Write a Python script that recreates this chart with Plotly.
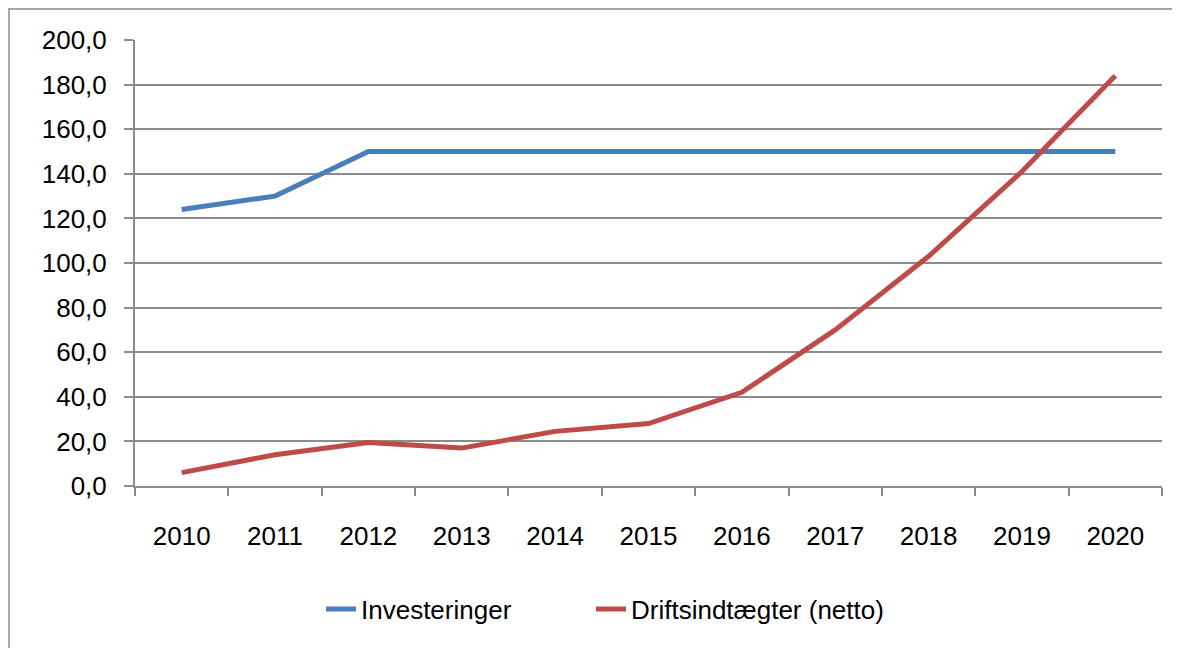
import plotly.graph_objects as go

years = ["2010", "2011", "2012", "2013", "2014", "2015", "2016", "2017", "2018", "2019", "2020"]
investeringer = [124, 130, 150, 150, 150, 150, 150, 150, 150, 150, 150]
driftsindtaegter = [6, 14, 19.5, 17, 24.5, 28, 42, 70, 103, 141, 184]
y_ticks = [0, 20, 40, 60, 80, 100, 120, 140, 160, 180, 200]
y_ticktext = ["0,0", "20,0", "40,0", "60,0", "80,0", "100,0", "120,0", "140,0", "160,0", "180,0", "200,0"]

FONT = "Liberation Sans"
GRID = "#8c8c8c"
FS = 26

fig = go.Figure()
fig.add_trace(go.Scatter(x=years, y=investeringer, mode="lines", name="Investeringer",
                         line=dict(color="#4A7EBB", width=5), legend="legend"))
fig.add_trace(go.Scatter(x=years, y=driftsindtaegter, mode="lines", name="Driftsindtægter (netto)",
                         line=dict(color="#BE4B48", width=5), legend="legend2"))

# page is offset by 8px body margin
OFF = 8
W, H = 1180 - OFF, 648 - OFF
L, T = 135 - OFF, 40 - OFF
R = W - (1162 - OFF)
B = H - (486 - OFF)
pw, ph = W - L - R, H - T - B

def px(x):
    return (x - OFF - L) / pw

def py(y):
    return (H - B - (y - OFF)) / ph

leg_common = dict(orientation="h", xanchor="left", y=py(609), yanchor="middle",
                  font=dict(family=FONT, size=FS), bgcolor="rgba(0,0,0,0)")

fig.update_layout(
    width=W, height=H,
    margin=dict(l=L, r=R, t=T, b=B),
    paper_bgcolor="white", plot_bgcolor="white",
    font=dict(family=FONT, size=FS, color="#000000"),
    showlegend=True,
    legend=dict(x=px(321), **leg_common),
    legend2=dict(x=px(591), **leg_common),
    xaxis=dict(type="category", range=[-0.5, 10.5], tickson="boundaries", ticks="outside",
               ticklen=8, tickcolor=GRID, tickwidth=2, showline=True, linecolor=GRID, linewidth=2,
               showgrid=False, zeroline=False, ticklabelstandoff=26,
               tickfont=dict(family=FONT, size=FS)),
    yaxis=dict(range=[0, 200], tickvals=y_ticks, ticktext=y_ticktext, ticks="outside",
               ticklen=9, tickcolor=GRID, tickwidth=2, showline=True, linecolor=GRID, linewidth=2,
               showgrid=True, gridcolor=GRID, gridwidth=2, zeroline=False, ticklabelstandoff=12,
               tickfont=dict(family=FONT, size=FS)),
    shapes=[dict(type="rect", xref="paper", yref="paper", x0=px(9), x1=px(1240), y0=py(700), y1=py(9),
                 line=dict(color="#a6a6a6", width=2), fillcolor="rgba(0,0,0,0)", layer="below")],
)

fig.write_html("out.html")
